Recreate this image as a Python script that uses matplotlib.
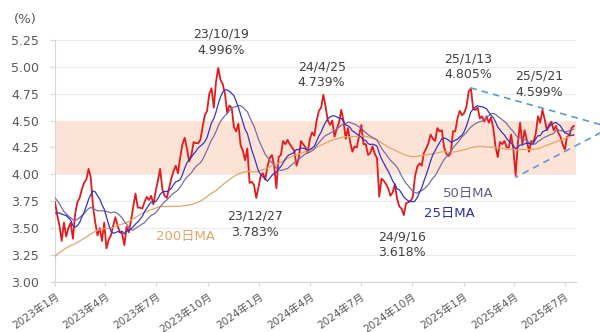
import matplotlib.pyplot as plt
import numpy as np
import pandas as pd

plt.rcParams['font.family'] = ['DejaVu Sans', 'Noto Sans CJK JP']

# US 10y yield (%), one value every 4 days starting 2022-03-11
# 2022 values are only used to warm up the moving averages
hist_2022 = [
    2.00, 2.15, 2.15, 2.32, 2.47, 2.34,
    2.42, 2.70, 2.72, 2.83, 2.84, 2.90, 2.85,
    2.99, 3.12, 2.99, 2.92, 2.89, 2.85, 2.75, 2.85,
    2.94, 2.98, 3.16, 3.33, 3.24, 3.09, 3.20,
    2.88, 2.82, 3.08, 2.93, 2.93, 2.91, 2.81, 2.65,
    2.74, 2.83, 2.78, 2.83, 2.88, 3.03, 3.04, 3.11,
    3.19, 3.27, 3.31, 3.45, 3.49, 3.69, 3.96,
    3.83, 3.75, 3.88, 3.95, 4.01, 4.21, 4.10, 4.01,
    4.10, 4.16, 3.82, 3.86, 3.83, 3.76, 3.68, 3.61,
    3.51, 3.48, 3.61, 3.48, 3.68, 3.75, 3.88,
]
yield_2023 = [
    3.74, 3.62, 3.52, 3.38, 3.55, 3.42, 3.50, 3.55,
    3.40, 3.63, 3.74, 3.78, 3.86, 3.92, 3.95, 4.05,
    3.97, 3.70, 3.55, 3.43, 3.50, 3.38, 3.55, 3.31,
    3.39, 3.43, 3.52, 3.60, 3.52, 3.46, 3.45, 3.34,
    3.51, 3.46, 3.57, 3.70, 3.82, 3.69, 3.69, 3.68,
    3.74, 3.79, 3.76, 3.80, 3.72, 3.84, 3.94, 4.05,
    3.86, 3.80, 3.78, 3.87, 3.96, 4.03, 4.08, 4.01,
    4.16, 4.28, 4.34, 4.24, 4.12, 4.18, 4.30, 4.29,
    4.29, 4.32, 4.44, 4.55, 4.59, 4.75, 4.80, 4.62,
    4.86, 4.99, 4.88, 4.84, 4.75, 4.57, 4.64, 4.62,
    4.44, 4.40, 4.47, 4.27, 4.22, 4.13, 4.24, 3.92,
    3.93, 3.90, 3.78, 3.88,
]
yield_2024 = [
    3.99, 4.01, 3.95, 4.07, 4.15, 4.18, 4.08, 3.87,
    4.16, 4.18, 4.31, 4.28, 4.32, 4.28, 4.25, 4.22,
    4.08, 4.15, 4.31, 4.28, 4.25, 4.20, 4.33, 4.39,
    4.36, 4.50, 4.59, 4.62, 4.74, 4.63, 4.50, 4.46,
    4.50, 4.35, 4.42, 4.48, 4.60, 4.50, 4.33, 4.43,
    4.30, 4.21, 4.26, 4.25, 4.36, 4.46, 4.28, 4.28,
    4.18, 4.20, 4.26, 4.19, 4.15, 3.79, 3.96, 3.94,
    3.91, 3.87, 3.80, 3.83, 3.91, 3.77, 3.70, 3.68,
    3.62, 3.73, 3.74, 3.75, 3.79, 3.98, 4.07, 4.10,
    4.08, 4.20, 4.24, 4.29, 4.37, 4.33, 4.31, 4.43,
    4.40, 4.41, 4.25, 4.19, 4.17, 4.20, 4.40, 4.40,
    4.52, 4.59, 4.55,
]
yield_2025 = [
    4.57, 4.63, 4.77, 4.80, 4.61, 4.60, 4.62, 4.52,
    4.54, 4.49, 4.54, 4.48, 4.53, 4.43, 4.26, 4.16,
    4.30, 4.28, 4.31, 4.25, 4.25, 4.37, 4.23, 3.99,
    4.29, 4.48, 4.28, 4.41, 4.32, 4.21, 4.31, 4.30,
    4.38, 4.54, 4.48, 4.60, 4.51, 4.41, 4.46, 4.49,
    4.41, 4.45, 4.39, 4.35, 4.28, 4.23, 4.35, 4.36,
    4.43, 4.45,
]

tick_dates = ['2023-01-01', '2023-04-01', '2023-07-01', '2023-10-01',
              '2024-01-01', '2024-04-01', '2024-07-01', '2024-10-01',
              '2025-01-01', '2025-04-01', '2025-07-01']
tick_labels = ['2023年1月', '2023年4月', '2023年7月', '2023年10月',
               '2024年1月', '2024年4月', '2024年7月', '2024年10月',
               '2025年1月', '2025年4月', '2025年7月']

# triangle trend lines: upper start, apex, lower start
tri_dates = ['2025-01-13', '2025-09-21', '2025-04-03']
tri_values = [4.805, 4.436, 3.97]

values = hist_2022 + yield_2023 + yield_2024 + yield_2025
dates = pd.date_range('2022-03-11', periods=len(values), freq='4D')
s = pd.Series(values, index=dates)

ma25 = s.rolling('35D').mean()
ma50 = s.rolling('72D').mean()
ma200 = s.rolling('290D').mean()

start = pd.Timestamp('2023-01-01')
show = s.index >= start

fig = plt.figure(figsize=(6, 3.32), dpi=100)
ax = fig.add_axes([0.0917, 0.1515, 0.8683, 0.728])

ax.axhspan(4.0, 4.5, color='#fce3d5', lw=0, zorder=1)
ax.plot(s.index[show], s[show], color='#e41a1c', lw=1.3, zorder=3)
ax.plot(ma200.index[show], ma200[show], color='#e3a46a', lw=0.9, zorder=4)
ax.plot(ma50.index[show], ma50[show], color='#7b6ca6', lw=0.9, zorder=4)
ax.plot(ma25.index[show], ma25[show], color='#3434c8', lw=0.9, zorder=4)

ax.plot(pd.to_datetime(tri_dates), tri_values, ls=(0, (4, 3)),
        color='#5b9bd5', lw=1.2, clip_on=False, zorder=6)

ax.set_xlim(start, pd.Timestamp('2025-07-21'))
ax.set_ylim(3.0, 5.25)
yt = np.arange(3.0, 5.26, 0.25)
ax.set_yticks(yt)
ax.set_yticklabels([f'{v:.2f}' for v in yt], fontsize=9)
ax.set_xticks(pd.to_datetime(tick_dates))
ax.set_xticklabels(tick_labels, rotation=35, ha='right',
                   rotation_mode='anchor', fontsize=7.6)

ax.yaxis.grid(True, color='#ebebeb', lw=0.8)
ax.set_axisbelow(True)
for side in ['top', 'right']:
    ax.spines[side].set_visible(False)
for side in ['left', 'bottom']:
    ax.spines[side].set_color('#d6d6d6')
ax.tick_params(axis='y', length=3.5, color='#d6d6d6', labelcolor='#595959', pad=8)
ax.tick_params(axis='x', length=3, color='#d6d6d6', labelcolor='#595959', pad=4)

fig.text(0.042, 0.94, '(%)', ha='center', va='center', fontsize=9.5, color='#595959')

notes = [
    ('2023-10-25', 5.23, '23/10/19\n4.996%'),
    ('2024-04-22', 4.928, '24/4/25\n4.739%'),
    ('2025-01-09', 5.0, '25/1/13\n4.805%'),
    ('2025-05-17', 4.839, '25/5/21\n4.599%'),
    ('2023-12-25', 3.535, '23/12/27\n3.783%'),
    ('2024-09-13', 3.343, '24/9/16\n3.618%'),
]
for d, v, t in notes:
    ax.text(pd.Timestamp(d), v, t, ha='center', va='center', fontsize=9,
            color='#404040', linespacing=1.3, zorder=7)

ax.text(pd.Timestamp('2023-08-22'), 3.418, '200日MA', ha='center', va='center',
        fontsize=9.5, color='#e3a46a')
ax.text(pd.Timestamp('2025-01-09'), 3.82, '50日MA', ha='center', va='center',
        fontsize=9.5, color='#64598a')
ax.text(pd.Timestamp('2024-12-06'), 3.633, '25日MA', ha='center', va='center',
        fontsize=9.5, color='#2d2db0')

fig.savefig('out.png', dpi=100)
